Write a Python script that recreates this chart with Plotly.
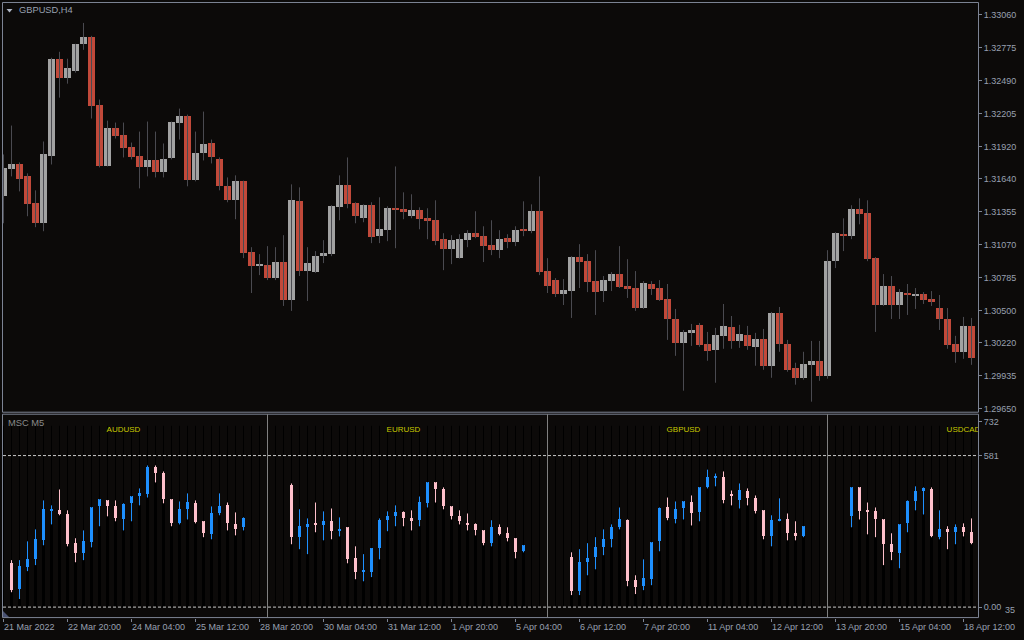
import plotly.graph_objects as go

# ---------------- data: GBPUSD H4 candles ----------------
main_open = [
    1.31489, 1.31722, 1.31765, 1.31662, 1.31429, 1.31256, 1.31835, 1.32672, 1.32508, 1.32568,
    1.32802, 1.32862, 1.32275, 1.31748, 1.32076, 1.32016, 1.31912, 1.31835, 1.31740, 1.31800,
    1.31697, 1.31817, 1.32120, 1.32180, 1.31628, 1.31861, 1.31947, 1.31809, 1.31576, 1.31455,
    1.31619, 1.31006, 1.30885, 1.30894, 1.30781, 1.30920, 1.30583, 1.31446, 1.30842, 1.30833,
    1.30971, 1.30989, 1.31394, 1.31584, 1.31429, 1.31299, 1.31412, 1.31144, 1.31196, 1.31386,
    1.31377, 1.31317, 1.31368, 1.31299, 1.31282, 1.31118, 1.31032, 1.30954, 1.31110, 1.31170,
    1.31144, 1.31066, 1.31023, 1.31127, 1.31092, 1.31196, 1.31187, 1.31360, 1.30842, 1.30764,
    1.30635, 1.30669, 1.30963, 1.30928, 1.30755, 1.30669, 1.30755, 1.30816, 1.30712, 1.30695,
    1.30522, 1.30730, 1.30695, 1.30600, 1.30427, 1.30212, 1.30298, 1.30367, 1.30203, 1.30151,
    1.30272, 1.30350, 1.30229, 1.30281, 1.30177, 1.30246, 1.30013, 1.30471, 1.30203, 1.29996,
    1.29910, 1.30022, 1.30056, 1.29927, 1.30928, 1.31153, 1.31144, 1.31377, 1.31343, 1.30954,
    1.30548, 1.30712, 1.30548, 1.30652, 1.30626, 1.30635, 1.30600, 1.30514, 1.30427, 1.30203,
    1.30134, 1.30358]
main_high = [
    1.31852, 1.32102, 1.31783, 1.31688, 1.31541, 1.31964, 1.32689, 1.32741, 1.32681, 1.32810,
    1.32991, 1.32879, 1.32327, 1.32145, 1.32128, 1.32128, 1.31955, 1.32050, 1.32137, 1.32050,
    1.31947, 1.32137, 1.32249, 1.32197, 1.32050, 1.32223, 1.31981, 1.31826, 1.31653, 1.31671,
    1.31625, 1.31049, 1.30989, 1.31058, 1.31049, 1.31153, 1.31593, 1.31567, 1.31049, 1.31015,
    1.31110, 1.31412, 1.31671, 1.31826, 1.31438, 1.31420, 1.31438, 1.31481, 1.31403, 1.31748,
    1.31524, 1.31507, 1.31394, 1.31386, 1.31455, 1.31170, 1.31153, 1.31161, 1.31196, 1.31360,
    1.31230, 1.31282, 1.31196, 1.31161, 1.31230, 1.31446, 1.31420, 1.31662, 1.30954, 1.30781,
    1.30773, 1.30971, 1.31075, 1.30989, 1.31023, 1.30799, 1.30833, 1.31058, 1.30945, 1.30842,
    1.30755, 1.30755, 1.30764, 1.30730, 1.30514, 1.30332, 1.30384, 1.30393, 1.30315, 1.30350,
    1.30557, 1.30453, 1.30376, 1.30367, 1.30307, 1.30341, 1.30488, 1.30531, 1.30246, 1.30048,
    1.30143, 1.30237, 1.30237, 1.31023, 1.31179, 1.31299, 1.31412, 1.31472, 1.31455, 1.30963,
    1.30816, 1.30799, 1.30686, 1.30730, 1.30695, 1.30660, 1.30669, 1.30635, 1.30522, 1.30281,
    1.30445, 1.30436]
main_low = [
    1.31256, 1.31662, 1.31532, 1.31317, 1.31222, 1.31187, 1.31765, 1.32344, 1.32465, 1.32560,
    1.32758, 1.32163, 1.31740, 1.31748, 1.31990, 1.31826, 1.31809, 1.31558, 1.31662, 1.31653,
    1.31653, 1.31809, 1.31981, 1.31576, 1.31619, 1.31800, 1.31774, 1.31541, 1.31438, 1.31291,
    1.30954, 1.30652, 1.30807, 1.30764, 1.30764, 1.30540, 1.30497, 1.30799, 1.30583, 1.30825,
    1.30911, 1.30971, 1.31282, 1.31386, 1.31256, 1.31265, 1.31084, 1.31084, 1.31101, 1.31040,
    1.31291, 1.31299, 1.31204, 1.31118, 1.31066, 1.30850, 1.30902, 1.30950, 1.31049, 1.31127,
    1.30920, 1.30980, 1.30954, 1.31040, 1.31058, 1.31144, 1.31170, 1.30807, 1.30652, 1.30617,
    1.30548, 1.30436, 1.30695, 1.30660, 1.30462, 1.30574, 1.30669, 1.30695, 1.30609, 1.30497,
    1.30514, 1.30635, 1.30583, 1.30246, 1.30108, 1.29806, 1.30194, 1.30186, 1.30065, 1.29875,
    1.30169, 1.30169, 1.30177, 1.30160, 1.30022, 1.29987, 1.29918, 1.30143, 1.29970, 1.29858,
    1.29901, 1.29711, 1.29892, 1.29910, 1.30868, 1.31015, 1.31118, 1.31247, 1.30928, 1.30315,
    1.30540, 1.30427, 1.30427, 1.30462, 1.30514, 1.30557, 1.30540, 1.30332, 1.30169, 1.30048,
    1.30082, 1.30030]
main_close = [
    1.31731, 1.31765, 1.31636, 1.31420, 1.31256, 1.31852, 1.32672, 1.32508, 1.32594, 1.32802,
    1.32862, 1.32266, 1.31748, 1.32076, 1.32007, 1.31904, 1.31826, 1.31740, 1.31800, 1.31697,
    1.31809, 1.32128, 1.32180, 1.31628, 1.31861, 1.31938, 1.31826, 1.31576, 1.31455, 1.31619,
    1.30997, 1.30885, 1.30894, 1.30781, 1.30920, 1.30583, 1.31455, 1.30842, 1.30911, 1.30971,
    1.30997, 1.31403, 1.31584, 1.31420, 1.31317, 1.31412, 1.31135, 1.31204, 1.31386, 1.31368,
    1.31351, 1.31368, 1.31291, 1.31273, 1.31101, 1.31032, 1.31110, 1.31118, 1.31170, 1.31135,
    1.31058, 1.31023, 1.31118, 1.31092, 1.31196, 1.31187, 1.31360, 1.30833, 1.30712, 1.30635,
    1.30678, 1.30963, 1.30920, 1.30747, 1.30660, 1.30764, 1.30816, 1.30704, 1.30686, 1.30522,
    1.30738, 1.30686, 1.30591, 1.30419, 1.30212, 1.30307, 1.30324, 1.30194, 1.30143, 1.30281,
    1.30358, 1.30229, 1.30289, 1.30186, 1.30246, 1.30013, 1.30479, 1.30203, 1.29978, 1.29910,
    1.30030, 1.30056, 1.29927, 1.30928, 1.31170, 1.31144, 1.31377, 1.31334, 1.30945, 1.30548,
    1.30712, 1.30548, 1.30660, 1.30635, 1.30643, 1.30591, 1.30574, 1.30419, 1.30194, 1.30134,
    1.30358, 1.30082]

price_ticks = [1.33060, 1.32775, 1.32490, 1.32205, 1.31920, 1.31640, 1.31355,
               1.31070, 1.30785, 1.30500, 1.30220, 1.29935, 1.29650]

time_tick_pos = [0, 8, 16, 24, 32, 40, 48, 56, 64, 72, 80, 88, 96, 104, 112, 120]
time_labels = ["21 Mar 2022", "22 Mar 20:00", "24 Mar 04:00", "25 Mar 12:00",
               "28 Mar 20:00", "30 Mar 04:00", "31 Mar 12:00", "1 Apr 20:00",
               "5 Apr 04:00", "6 Apr 12:00", "7 Apr 20:00", "11 Apr 04:00",
               "12 Apr 12:00", "13 Apr 20:00", "15 Apr 04:00", "18 Apr 12:00"]

# ---------------- data: MSC M5 sub-window (indicator units) ----------------
msc_symbols = ["AUDUSD", "EURUSD", "GBPUSD", "USDCAD"]
msc_start = [1, 36, 71, 106]
msc_label_pos = [15, 50, 85, 120]
msc_dividers = [33, 68, 103]
msc_levels = [581, 0]
msc_ticks = [711, 581, 0]
msc_ticktext = ["732", "581", "0.00"]

aud_open = [168, 69, 153, 183, 256, 371, 371, 355, 245, 206, 248, 386, 409, 386, 336,
            398, 424, 432, 535, 512, 413, 321, 375, 398, 329, 279, 359, 390, 317, 306]
aud_high = [180, 180, 252, 298, 409, 390, 451, 371, 264, 294, 382, 413, 409, 409, 398,
            424, 455, 543, 543, 520, 413, 405, 436, 409, 329, 386, 436, 401, 363, 344]
aud_low = [57, 31, 138, 161, 237, 317, 352, 233, 172, 180, 229, 310, 348, 329, 294,
           329, 390, 420, 478, 398, 310, 317, 336, 321, 268, 260, 352, 294, 275, 294]
aud_close = [65, 157, 183, 260, 375, 375, 355, 241, 206, 252, 382, 413, 386, 340, 394,
             424, 436, 535, 512, 413, 321, 375, 401, 325, 283, 359, 386, 321, 298, 340]

eur_open = [466, 268, 310, 321, 313, 329, 291, 306, 187, 134, 134, 226, 333, 348, 363,
            340, 333, 398, 478, 451, 386, 348, 321, 317, 294, 245, 306, 283, 264, 214]
eur_high = [474, 375, 340, 401, 367, 378, 344, 306, 233, 203, 226, 340, 367, 390, 367,
            371, 424, 478, 478, 459, 386, 371, 359, 321, 294, 333, 317, 306, 264, 237]
eur_low = [241, 222, 203, 287, 256, 260, 271, 168, 107, 99, 115, 183, 291, 310, 310,
           294, 310, 382, 401, 375, 336, 317, 294, 275, 237, 233, 275, 252, 187, 210]
eur_close = [268, 310, 317, 313, 329, 291, 298, 183, 134, 138, 226, 333, 348, 363, 340,
             333, 401, 478, 451, 386, 348, 329, 317, 294, 245, 306, 279, 264, 210, 237]

gbp_open = [191, 61, 172, 191, 229, 260, 306, 333, 103, 80, 107, 252, 382, 336, 378,
            401, 363, 459, 497, 497, 432, 409, 443, 417, 371, 271, 333, 336, 283, 271]
gbp_high = [210, 222, 245, 268, 298, 317, 382, 336, 122, 183, 248, 382, 420, 405, 405,
            428, 459, 527, 512, 520, 447, 474, 455, 428, 371, 352, 417, 359, 329, 310]
gbp_low = [46, 46, 122, 145, 199, 229, 298, 80, 50, 65, 84, 214, 333, 321, 336,
           313, 329, 455, 463, 398, 390, 378, 390, 359, 260, 233, 329, 256, 256, 268]
gbp_close = [61, 172, 187, 229, 260, 306, 336, 99, 76, 111, 248, 378, 340, 375, 405,
             359, 459, 497, 501, 409, 428, 447, 417, 367, 271, 333, 336, 283, 271, 310]

cad_open = [348, 459, 371, 367, 336, 241, 206, 321, 405, 443, 451, 268, 298, 287, 306, 287]
cad_high = [459, 459, 401, 382, 336, 283, 317, 409, 463, 459, 459, 371, 310, 317, 321, 340]
cad_low = [306, 336, 279, 268, 161, 180, 149, 287, 371, 355, 268, 260, 222, 241, 271, 241]
cad_close = [459, 367, 367, 336, 241, 210, 317, 405, 443, 455, 271, 298, 287, 306, 287, 245]

# ---------------- styling ----------------
W, H = 1024, 640
BG = "#0c0a09"
FRAME = "#7d8494"
TXT = "#98a0b0"
FONT = "Liberation Sans"
BULL = "#a2a2a2"
BEAR = "#c1493a"
WICK = "#4a4a50"
UP2 = "#1e90ff"
DN2 = "#ffc0cb"
LBL = "#c8c800"


def fx(px):
    return px / W


def fy(py):
    return (H - py) / H


n = len(main_open)
idx = list(range(n))
XR = [-0.1875, 121.8125]
XDOM = [fx(2), fx(978)]
Y_MAIN = [1.331895 - 8.633e-5 * 413.5, 1.331895 - 8.633e-5 * 2.5]
Y_SUB = [3.8224 * (609 - 619.5), 3.8224 * (609 - 415.5)]

fig = go.Figure()

# main wicks
wx, wy = [], []
for i in idx:
    wx += [i, i, None]
    wy += [main_low[i], main_high[i], None]
fig.add_trace(go.Scatter(x=wx, y=wy, mode="lines", line=dict(color=WICK, width=1),
                         xaxis="x", yaxis="y", hoverinfo="skip"))
bull = [i for i in idx if main_close[i] >= main_open[i]]
bear = [i for i in idx if main_close[i] < main_open[i]]
fig.add_trace(go.Bar(x=bull, y=[main_close[i] - main_open[i] for i in bull],
                     base=[main_open[i] for i in bull], width=0.875,
                     marker=dict(color=BULL, line=dict(width=0)), xaxis="x", yaxis="y"))
fig.add_trace(go.Bar(x=bear, y=[main_open[i] - main_close[i] for i in bear],
                     base=[main_close[i] for i in bear], width=0.875,
                     marker=dict(color=BEAR, line=dict(width=0)), xaxis="x", yaxis="y"))

# sub-window background slot lines
sx, sy = [], []
for i in idx:
    sx += [i, i, None]
    sy += [0, 695, None]
fig.add_trace(go.Scatter(x=sx, y=sy, mode="lines", line=dict(color="#000000", width=1),
                         xaxis="x2", yaxis="y2", hoverinfo="skip"))

sets = [(aud_open, aud_high, aud_low, aud_close), (eur_open, eur_high, eur_low, eur_close),
        (gbp_open, gbp_high, gbp_low, gbp_close), (cad_open, cad_high, cad_low, cad_close)]
colx, coly = [], []
upw_x, upw_y, dnw_x, dnw_y = [], [], [], []
up_x, up_y, up_b, dn_x, dn_y, dn_b = [], [], [], [], [], []
for (o, h, l, c), s in zip(sets, msc_start):
    for k in range(len(o)):
        i = s + k
        colx.append(i)
        coly.append(l[k])
        if c[k] >= o[k]:
            upw_x += [i, i, None]
            upw_y += [l[k], h[k], None]
            up_x.append(i)
            up_y.append(max(c[k] - o[k], 1.5))
            up_b.append(o[k])
        else:
            dnw_x += [i, i, None]
            dnw_y += [l[k], h[k], None]
            dn_x.append(i)
            dn_y.append(o[k] - c[k])
            dn_b.append(c[k])

fig.add_trace(go.Bar(x=colx, y=coly, base=0, width=0.3,
                     marker=dict(color="#000000", line=dict(width=0)), xaxis="x2", yaxis="y2"))
fig.add_trace(go.Scatter(x=upw_x, y=upw_y, mode="lines", line=dict(color=UP2, width=1),
                         xaxis="x2", yaxis="y2", hoverinfo="skip"))
fig.add_trace(go.Scatter(x=dnw_x, y=dnw_y, mode="lines", line=dict(color=DN2, width=1),
                         xaxis="x2", yaxis="y2", hoverinfo="skip"))
fig.add_trace(go.Bar(x=up_x, y=up_y, base=up_b, width=0.375,
                     marker=dict(color=UP2, line=dict(width=0)), xaxis="x2", yaxis="y2"))
fig.add_trace(go.Bar(x=dn_x, y=dn_y, base=dn_b, width=0.375,
                     marker=dict(color=DN2, line=dict(width=0)), xaxis="x2", yaxis="y2"))

# symbol labels (clipped at the frame like the original)
fig.add_trace(go.Scatter(x=msc_label_pos, y=[680] * 4, mode="text", text=msc_symbols,
                         textfont=dict(family=FONT, size=8, color=LBL), cliponaxis=True,
                         xaxis="x2", yaxis="y2", hoverinfo="skip"))

shapes = []
# frames
shapes.append(dict(type="rect", xref="paper", yref="paper", x0=fx(2.5), x1=fx(978.5),
                   y0=fy(413.5), y1=fy(2.5), line=dict(color=FRAME, width=1)))
shapes.append(dict(type="rect", xref="paper", yref="paper", x0=fx(2.5), x1=fx(978.5),
                   y0=fy(619.5), y1=fy(415.5), line=dict(color=FRAME, width=1)))
# dashed levels
for v in msc_levels:
    shapes.append(dict(type="line", xref="paper", yref="y2", x0=fx(3), x1=fx(978),
                       y0=v, y1=v, line=dict(color="#c8c8c8", width=1, dash="3px,2px")))
# panel dividers
for d in msc_dividers:
    shapes.append(dict(type="line", xref="x2", yref="paper", x0=d, x1=d,
                       y0=fy(619.5), y1=fy(415.5), line=dict(color="#808080", width=1)))
# top-left triangle and bottom-left corner marker
shapes.append(dict(type="path", xref="paper", yref="paper",
                   path="M %f %f L %f %f L %f %f Z" % (fx(6.5), fy(9), fx(12.5), fy(9), fx(9.5), fy(12.5)),
                   fillcolor="#b0b6c4", line=dict(width=0)))
shapes.append(dict(type="path", xref="paper", yref="paper",
                   path="M %f %f L %f %f L %f %f Z" % (fx(3), fy(613), fx(3), fy(619), fx(9), fy(619)),
                   fillcolor="#4a5272", line=dict(width=0)))

annotations = []
annotations.append(dict(text="GBPUSD,H4", x=fx(17), y=fy(10.5), xref="paper", yref="paper",
                        xanchor="left", yanchor="middle", showarrow=False,
                        font=dict(family=FONT, size=9.3, color=TXT)))
annotations.append(dict(text="MSC M5", x=fx(6), y=fy(424.5), xref="paper", yref="paper",
                        xanchor="left", yanchor="middle", showarrow=False,
                        font=dict(family=FONT, size=9.3, color="#8a8a8a")))
for pos, lab in zip(time_tick_pos, time_labels):
    annotations.append(dict(text=lab, x=pos, y=fy(628.5), xref="x2", yref="paper",
                            xanchor="left", yanchor="middle", showarrow=False, xshift=-2,
                            font=dict(family=FONT, size=9, color=TXT)))
# second bottom value of the indicator scale, set beside "0.00" so the two stay legible
annotations.append(dict(text="35", x=fx(1003), y=fy(612), xref="paper", yref="paper",
                        xanchor="left", yanchor="middle", showarrow=False,
                        font=dict(family=FONT, size=9, color=TXT)))

fig.update_layout(
    width=W, height=H, margin=dict(l=0, r=0, t=0, b=0),
    paper_bgcolor=BG, plot_bgcolor=BG, showlegend=False, hovermode=False,
    barmode="overlay", bargap=0,
    shapes=shapes, annotations=annotations,
    xaxis=dict(domain=XDOM, range=XR, showgrid=False, zeroline=False, showticklabels=False,
               ticks="", showline=False, anchor="y"),
    yaxis=dict(domain=[fy(413.5), fy(2.5)], range=Y_MAIN, side="right", anchor="x",
               showgrid=False, zeroline=False, showline=False,
               tickvals=price_ticks, ticktext=["%.5f" % p for p in price_ticks],
               ticks="outside", ticklen=3, tickcolor=FRAME,
               tickfont=dict(family=FONT, size=9, color=TXT)),
    xaxis2=dict(domain=XDOM, range=XR, showgrid=False, zeroline=False, showticklabels=False,
                tickvals=time_tick_pos, ticks="outside", ticklen=3, tickcolor=FRAME,
                showline=False, anchor="y2"),
    yaxis2=dict(domain=[fy(619.5), fy(415.5)], range=Y_SUB, side="right", anchor="x2",
                showgrid=False, zeroline=False, showline=False,
                tickvals=msc_ticks, ticktext=msc_ticktext,
                ticks="outside", ticklen=3, tickcolor=FRAME,
                tickfont=dict(family=FONT, size=9, color=TXT)),
)

fig.write_html("out.html", config={"displayModeBar": False},
               post_script="document.body.style.margin='0';document.body.style.overflow='hidden';")
